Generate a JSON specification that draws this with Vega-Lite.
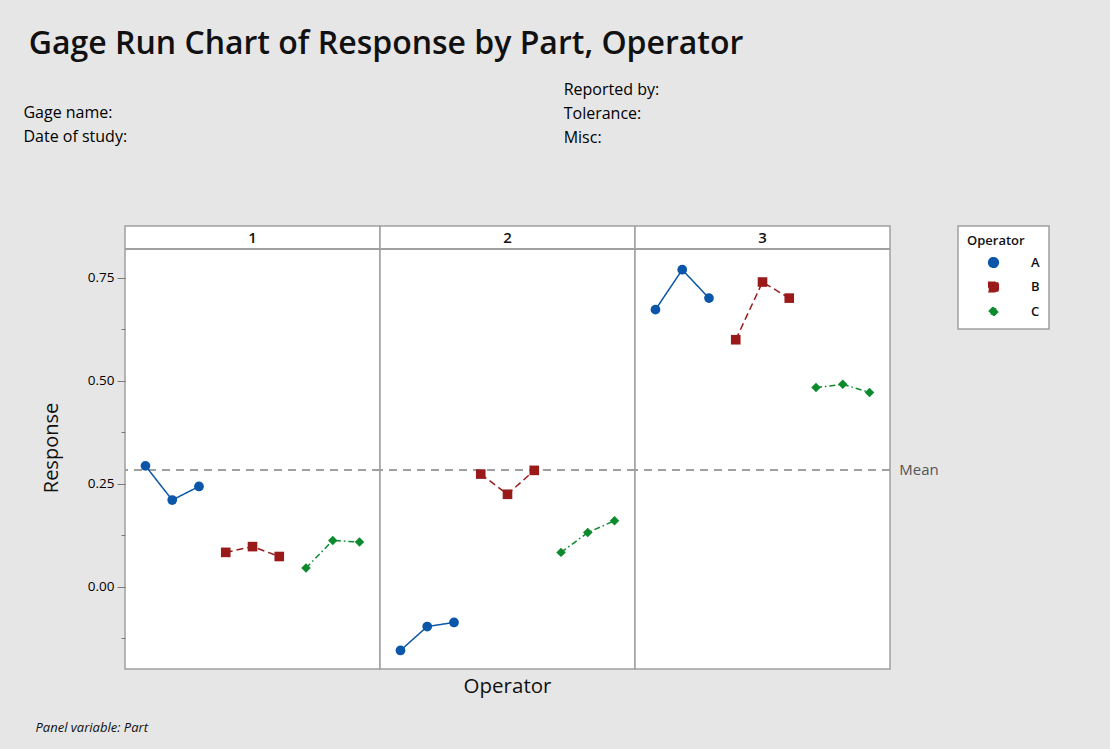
{
  "$schema": "https://vega.github.io/schema/vega-lite/v6.json",
  "background": "#e6e6e6",
  "padding": {"left": 22, "top": 28, "right": 60, "bottom": 14},
  "title": {"text": "Gage Run Chart of Response by Part, Operator", "anchor": "start", "font": "Open Sans", "fontSize": 32, "fontWeight": 600, "color": "#111111", "offset": 20, "dx": 6},
  "data": {"values": [
    {"Part": 1, "Operator": "A", "Trial": 1, "Obs": 1, "Response": 0.293},
    {"Part": 1, "Operator": "A", "Trial": 2, "Obs": 2, "Response": 0.210},
    {"Part": 1, "Operator": "A", "Trial": 3, "Obs": 3, "Response": 0.243},
    {"Part": 1, "Operator": "B", "Trial": 1, "Obs": 4, "Response": 0.083},
    {"Part": 1, "Operator": "B", "Trial": 2, "Obs": 5, "Response": 0.097},
    {"Part": 1, "Operator": "B", "Trial": 3, "Obs": 6, "Response": 0.073},
    {"Part": 1, "Operator": "C", "Trial": 1, "Obs": 7, "Response": 0.045},
    {"Part": 1, "Operator": "C", "Trial": 2, "Obs": 8, "Response": 0.112},
    {"Part": 1, "Operator": "C", "Trial": 3, "Obs": 9, "Response": 0.108},
    {"Part": 2, "Operator": "A", "Trial": 1, "Obs": 1, "Response": -0.155},
    {"Part": 2, "Operator": "A", "Trial": 2, "Obs": 2, "Response": -0.097},
    {"Part": 2, "Operator": "A", "Trial": 3, "Obs": 3, "Response": -0.087},
    {"Part": 2, "Operator": "B", "Trial": 1, "Obs": 4, "Response": 0.273},
    {"Part": 2, "Operator": "B", "Trial": 2, "Obs": 5, "Response": 0.224},
    {"Part": 2, "Operator": "B", "Trial": 3, "Obs": 6, "Response": 0.282},
    {"Part": 2, "Operator": "C", "Trial": 1, "Obs": 7, "Response": 0.083},
    {"Part": 2, "Operator": "C", "Trial": 2, "Obs": 8, "Response": 0.131},
    {"Part": 2, "Operator": "C", "Trial": 3, "Obs": 9, "Response": 0.160},
    {"Part": 3, "Operator": "A", "Trial": 1, "Obs": 1, "Response": 0.672},
    {"Part": 3, "Operator": "A", "Trial": 2, "Obs": 2, "Response": 0.769},
    {"Part": 3, "Operator": "A", "Trial": 3, "Obs": 3, "Response": 0.700},
    {"Part": 3, "Operator": "B", "Trial": 1, "Obs": 4, "Response": 0.599},
    {"Part": 3, "Operator": "B", "Trial": 2, "Obs": 5, "Response": 0.739},
    {"Part": 3, "Operator": "B", "Trial": 3, "Obs": 6, "Response": 0.700},
    {"Part": 3, "Operator": "C", "Trial": 1, "Obs": 7, "Response": 0.483},
    {"Part": 3, "Operator": "C", "Trial": 2, "Obs": 8, "Response": 0.491},
    {"Part": 3, "Operator": "C", "Trial": 3, "Obs": 9, "Response": 0.471}
  ]},
  "spacing": 0,
  "bounds": "flush",
  "resolve": {"scale": {"x": "shared", "y": "shared", "color": "shared", "shape": "shared", "strokeDash": "shared", "size": "shared"}},
  "hconcat": [
    {
      "width": 255, "height": 443,
      "transform": [{"filter": "datum.Part == 1"}],
      "layer": [
        {"mark": {"type": "rule", "color": "#a0a0a0", "strokeWidth": 1.5, "strokeDash": [8, 6]},
         "encoding": {"y": {"datum": 0.2825, "axis": {"title": "Response", "values": [-0.125, 0, 0.125, 0.25, 0.375, 0.5, 0.625, 0.75], "labelExpr": "datum.value * 8 % 2 == 0 ? format(datum.value, '.2f') : ''", "tickSize": 8, "tickDash": {"condition": {"test": "datum.value * 8 % 2 != 0", "value": [4, 20]}, "value": [8, 0]}}}}},
        {"mark": {"type": "rule", "color": "#a0a0a0", "strokeWidth": 1.5},
         "encoding": {"y": {"datum": 0.819, "axis": {"title": "Response", "values": [-0.125, 0, 0.125, 0.25, 0.375, 0.5, 0.625, 0.75], "labelExpr": "datum.value * 8 % 2 == 0 ? format(datum.value, '.2f') : ''", "tickSize": 8, "tickDash": {"condition": {"test": "datum.value * 8 % 2 != 0", "value": [4, 20]}, "value": [8, 0]}}}}},
        {
          "transform": [{"filter": "datum.Obs == 1"}],
          "mark": {"type": "text", "fontSize": 15, "fontWeight": 600, "color": "#111111", "baseline": "middle", "align": "center"},
          "encoding": {"x": {"datum": 5, "axis": null}, "y": {"datum": 0.847, "axis": {"title": "Response", "values": [-0.125, 0, 0.125, 0.25, 0.375, 0.5, 0.625, 0.75], "labelExpr": "datum.value * 8 % 2 == 0 ? format(datum.value, '.2f') : ''", "tickSize": 8, "tickDash": {"condition": {"test": "datum.value * 8 % 2 != 0", "value": [4, 20]}, "value": [8, 0]}}}, "text": {"field": "Part", "type": "nominal"}}
        },
        {
          "mark": {"type": "line", "strokeWidth": 1.5},
          "encoding": {
            "x": {"field": "Obs", "type": "quantitative", "scale": {"domain": [0.235, 9.765], "nice": false, "zero": false}, "axis": null},
            "y": {"field": "Response", "type": "quantitative", "scale": {"domain": [-0.2, 0.875], "nice": false, "zero": false}, "axis": {"title": "Response", "values": [-0.125, 0, 0.125, 0.25, 0.375, 0.5, 0.625, 0.75], "labelExpr": "datum.value * 8 % 2 == 0 ? format(datum.value, '.2f') : ''", "tickSize": 8, "tickDash": {"condition": {"test": "datum.value * 8 % 2 != 0", "value": [4, 20]}, "value": [8, 0]}}},
            "color": {"field": "Operator", "type": "nominal", "scale": {"domain": ["A", "B", "C"], "range": ["#0b56a8", "#9a1a1a", "#0d8a2e"]}, "legend": {"title": "Operator"}},
            "strokeDash": {"field": "Operator", "type": "nominal", "scale": {"domain": ["A", "B", "C"], "range": [[1, 0], [7, 4], [6, 3, 1.5, 3]]}, "legend": null}
          }
        },
        {
          "mark": {"type": "point", "filled": true, "opacity": 1},
          "encoding": {
            "x": {"field": "Obs", "type": "quantitative", "axis": null},
            "y": {"field": "Response", "type": "quantitative", "axis": {"title": "Response", "values": [-0.125, 0, 0.125, 0.25, 0.375, 0.5, 0.625, 0.75], "labelExpr": "datum.value * 8 % 2 == 0 ? format(datum.value, '.2f') : ''", "tickSize": 8, "tickDash": {"condition": {"test": "datum.value * 8 % 2 != 0", "value": [4, 20]}, "value": [8, 0]}}},
            "color": {"field": "Operator", "type": "nominal", "legend": {"title": "Operator"}},
            "shape": {"field": "Operator", "type": "nominal", "scale": {"domain": ["A", "B", "C"], "range": ["circle", "square", "diamond"]}, "legend": {"title": "Operator"}},
            "size": {"field": "Operator", "type": "nominal", "scale": {"domain": ["A", "B", "C"], "range": [95, 90, 150]}, "legend": null}
          }
        },
        {
          "transform": [{"filter": "datum.Obs == 1"}],
          "mark": {"type": "text", "text": ["Gage name:", "Date of study:"], "lineHeight": 23.5, "align": "left", "baseline": "alphabetic", "fontSize": 16, "color": "#000000"},
          "encoding": {"x": {"datum": -3.56, "axis": null}, "y": {"datum": 1.137, "axis": {"title": "Response", "values": [-0.125, 0, 0.125, 0.25, 0.375, 0.5, 0.625, 0.75], "labelExpr": "datum.value * 8 % 2 == 0 ? format(datum.value, '.2f') : ''", "tickSize": 8, "tickDash": {"condition": {"test": "datum.value * 8 % 2 != 0", "value": [4, 20]}, "value": [8, 0]}}}}
        },
        {
          "transform": [{"filter": "datum.Obs == 1"}],
          "mark": {"type": "text", "text": "Panel variable: Part", "align": "left", "baseline": "alphabetic", "fontSize": 13, "fontStyle": "italic", "color": "#111111"},
          "encoding": {"x": {"datum": -3.11, "axis": null}, "y": {"datum": -0.3527, "axis": {"title": "Response", "values": [-0.125, 0, 0.125, 0.25, 0.375, 0.5, 0.625, 0.75], "labelExpr": "datum.value * 8 % 2 == 0 ? format(datum.value, '.2f') : ''", "tickSize": 8, "tickDash": {"condition": {"test": "datum.value * 8 % 2 != 0", "value": [4, 20]}, "value": [8, 0]}}}}
        }
      ]
    },
    {
      "width": 255, "height": 443,
      "transform": [{"filter": "datum.Part == 2"}],
      "layer": [
        {"mark": {"type": "rule", "color": "#a0a0a0", "strokeWidth": 1.5, "strokeDash": [8, 6]}, "encoding": {"y": {"datum": 0.2825, "axis": null}}},
        {"mark": {"type": "rule", "color": "#a0a0a0", "strokeWidth": 1.5}, "encoding": {"y": {"datum": 0.819, "axis": null}}},
        {
          "transform": [{"filter": "datum.Obs == 1"}],
          "mark": {"type": "text", "fontSize": 15, "fontWeight": 600, "color": "#111111", "baseline": "middle", "align": "center"},
          "encoding": {"x": {"datum": 5, "axis": null}, "y": {"datum": 0.847, "axis": null}, "text": {"field": "Part", "type": "nominal"}}
        },
        {
          "mark": {"type": "line", "strokeWidth": 1.5},
          "encoding": {
            "x": {"field": "Obs", "type": "quantitative", "scale": {"domain": [0.235, 9.765], "nice": false, "zero": false}, "axis": null},
            "y": {"field": "Response", "type": "quantitative", "scale": {"domain": [-0.2, 0.875], "nice": false, "zero": false}, "axis": null},
            "color": {"field": "Operator", "type": "nominal", "legend": {"title": "Operator"}},
            "strokeDash": {"field": "Operator", "type": "nominal", "legend": null}
          }
        },
        {
          "mark": {"type": "point", "filled": true, "opacity": 1},
          "encoding": {
            "x": {"field": "Obs", "type": "quantitative", "axis": null},
            "y": {"field": "Response", "type": "quantitative", "axis": null},
            "color": {"field": "Operator", "type": "nominal", "legend": {"title": "Operator"}},
            "shape": {"field": "Operator", "type": "nominal", "legend": {"title": "Operator"}},
            "size": {"field": "Operator", "type": "nominal", "legend": null}
          }
        },
        {
          "transform": [{"filter": "datum.Obs == 1"}],
          "mark": {"type": "text", "text": ["Reported by:", "Tolerance:", "Misc:"], "lineHeight": 24, "align": "left", "baseline": "alphabetic", "fontSize": 16, "color": "#000000"},
          "encoding": {"x": {"datum": 7.1, "axis": null}, "y": {"datum": 1.1934, "axis": null}}
        },
        {
          "transform": [{"filter": "datum.Obs == 1"}],
          "mark": {"type": "text", "text": "Operator", "align": "center", "baseline": "alphabetic", "fontSize": 20.5, "color": "#111111"},
          "encoding": {"x": {"datum": 5, "axis": null}, "y": {"datum": -0.258, "axis": null}}
        }
      ]
    },
    {
      "width": 255, "height": 443,
      "transform": [{"filter": "datum.Part == 3"}],
      "layer": [
        {"mark": {"type": "rule", "color": "#a0a0a0", "strokeWidth": 1.5, "strokeDash": [8, 6]}, "encoding": {"y": {"datum": 0.2825, "axis": null}}},
        {"mark": {"type": "rule", "color": "#a0a0a0", "strokeWidth": 1.5}, "encoding": {"y": {"datum": 0.819, "axis": null}}},
        {
          "transform": [{"filter": "datum.Obs == 1"}],
          "mark": {"type": "text", "fontSize": 15, "fontWeight": 600, "color": "#111111", "baseline": "middle", "align": "center"},
          "encoding": {"x": {"datum": 5, "axis": null}, "y": {"datum": 0.847, "axis": null}, "text": {"field": "Part", "type": "nominal"}}
        },
        {
          "mark": {"type": "line", "strokeWidth": 1.5},
          "encoding": {
            "x": {"field": "Obs", "type": "quantitative", "scale": {"domain": [0.235, 9.765], "nice": false, "zero": false}, "axis": null},
            "y": {"field": "Response", "type": "quantitative", "scale": {"domain": [-0.2, 0.875], "nice": false, "zero": false}, "axis": null},
            "color": {"field": "Operator", "type": "nominal", "legend": {"title": "Operator"}},
            "strokeDash": {"field": "Operator", "type": "nominal", "legend": null}
          }
        },
        {
          "mark": {"type": "point", "filled": true, "opacity": 1},
          "encoding": {
            "x": {"field": "Obs", "type": "quantitative", "axis": null},
            "y": {"field": "Response", "type": "quantitative", "axis": null},
            "color": {"field": "Operator", "type": "nominal", "legend": {"title": "Operator"}},
            "shape": {"field": "Operator", "type": "nominal", "legend": {"title": "Operator"}},
            "size": {"field": "Operator", "type": "nominal", "legend": null}
          }
        },
        {
          "transform": [{"filter": "datum.Obs == 9"}],
          "mark": {"type": "text", "text": "Mean", "align": "left", "baseline": "middle", "fontSize": 15, "color": "#555555"},
          "encoding": {"x": {"datum": 10.115, "axis": null}, "y": {"datum": 0.2825, "axis": null}}
        }
      ]
    }
  ],
  "config": {
    "font": "Open Sans",
    "view": {"stroke": "#a0a0a0", "strokeWidth": 1.5, "fill": "white"},
    "axis": {
      "domain": false,
      "grid": false,
      "tickColor": "#7a7a7a",
      "tickWidth": 1,
      "labelFont": "Open Sans",
      "labelFontSize": 13.5,
      "labelColor": "#000000",
      "labelPadding": 3,
      "titleFont": "Open Sans",
      "titleFontSize": 20,
      "titleFontWeight": "normal",
      "titleColor": "#111111",
      "titlePadding": 26
    },
    "legend": {
      "orient": "right",
      "offset": 18,
      "fillColor": "white",
      "strokeColor": "#a0a0a0",
      "strokeWidth": 1.5,
      "padding": 9,
      "titleFont": "Open Sans",
      "titleFontSize": 13,
      "titleFontWeight": 600,
      "titleColor": "#111111",
      "titlePadding": 8,
      "labelFont": "Open Sans",
      "labelFontSize": 13,
      "labelFontWeight": 600,
      "labelColor": "#111111",
      "symbolOffset": 20,
      "labelOffset": 31,
      "rowPadding": 7.5,
      "symbolSize": 100
    }
  }
}
